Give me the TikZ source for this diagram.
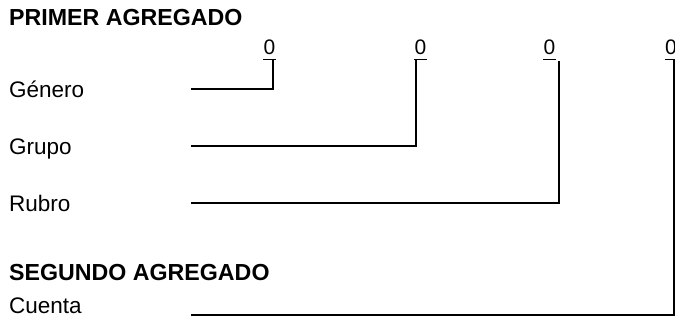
\documentclass[tikz,border=0pt]{standalone}
\usepackage{fontspec}
\setmainfont{Liberation Sans}
\begin{document}
\begin{tikzpicture}[x=1pt,y=1pt,
  lbl/.style={anchor=base west, inner sep=0pt, font=\fontsize{22.5}{26}\selectfont},
  ttl/.style={lbl, font=\fontsize{23.2}{26}\selectfont\bfseries},
  zero/.style={anchor=base, inner sep=0pt, font=\fontsize{21}{24}\selectfont},
  ul/.style={line width=1.8pt},
  conn/.style={line width=2.2pt}]
\useasboundingbox (0,0) rectangle (675,324);
% titles and labels
\node[ttl] (t1) at (9,298) {PRIMER AGREGADO};
\node[lbl] (ge) at (9,226) {Género};
\node[lbl] (gr) at (9,169) {Grupo};
\node[lbl] (ru) at (9,112) {Rubro};
\node[ttl] (t2) at (9,43) {SEGUNDO AGREGADO};
\node[lbl] (cu) at (9,10) {Cuenta};
% zeros
\node[zero] (z1) at (269.5,269) {0};
\node[zero] (z2) at (420.5,269) {0};
\node[zero] (z3) at (549.5,269) {0};
\node[zero] (z4) at (671,269) {0};
% underlines
\coordinate (u1a) at (263,264.5); \coordinate (u1b) at (276,264.5);
\coordinate (u2a) at (414,264.5); \coordinate (u2b) at (427,264.5);
\coordinate (u3a) at (543,264.5); \coordinate (u3b) at (556,264.5);
\coordinate (u4a) at (665,264.5); \coordinate (u4b) at (678,264.5);
\draw[ul] (u1a) -- (u1b);
\draw[ul] (u2a) -- (u2b);
\draw[ul] (u3a) -- (u3b);
\draw[ul] (u4a) -- (u4b);
% connector tops
\coordinate (v1) at (273,264.5);
\coordinate (v2) at (416,264.5);
\coordinate (v3) at (559,263);
\coordinate (v4) at (674,264.5);
% connector starts
\coordinate (s1) at (191,235);
\coordinate (s2) at (191,178);
\coordinate (s3) at (191,121);
\coordinate (s4) at (191,9);
\draw[conn] (s1) -| (v1);
\draw[conn] (s2) -| (v2);
\draw[conn] (s3) -| (v3);
\draw[conn] (s4) -| (v4);
\end{tikzpicture}
\end{document}
